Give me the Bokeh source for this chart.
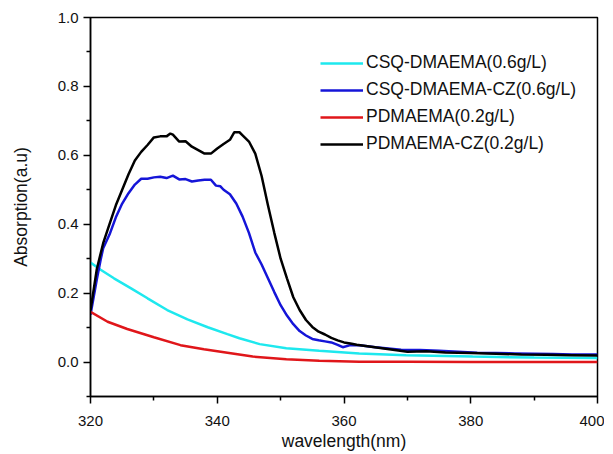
from bokeh.plotting import figure
from bokeh.models import FixedTicker, Legend, LegendItem, PrintfTickFormatter, Range1d
from bokeh.embed import file_html
from bokeh.resources import INLINE

# ---- data ----
cyan_x = [320, 321.6, 323.7, 326.4, 329, 332.1, 335.3, 338.5, 341.6, 343.5, 346.7, 350.9,
          356.1, 362.4, 369.8, 380.3, 390, 400]
cyan_y = [0.289, 0.268, 0.243, 0.214, 0.185, 0.151, 0.124, 0.101, 0.081, 0.069, 0.052, 0.040,
          0.033, 0.025, 0.020, 0.016, 0.013, 0.012]

blue_x = [320, 321, 321.6, 322, 323, 324, 325, 326, 327, 328, 329, 330, 331, 332, 333, 334, 335,
          336, 337, 338, 339, 339.8, 340.5, 341, 342, 343, 344, 345, 346, 347, 348, 349, 350,
          351, 352, 353, 354, 355, 356, 357, 358, 359, 359.8, 361, 362.4, 365, 369, 372, 375,
          378, 381, 384, 387, 390, 393, 396, 400]
blue_y = [0.137, 0.24, 0.297, 0.33, 0.37, 0.42, 0.46, 0.49, 0.515, 0.532, 0.532, 0.536, 0.538,
          0.534, 0.541, 0.53, 0.531, 0.524, 0.527, 0.529, 0.529, 0.512, 0.51, 0.50, 0.487, 0.46,
          0.422, 0.375, 0.318, 0.283, 0.243, 0.203, 0.165, 0.135, 0.11, 0.09, 0.077, 0.067,
          0.063, 0.06, 0.057, 0.05, 0.043, 0.049, 0.049, 0.043, 0.036, 0.035, 0.033, 0.030,
          0.027, 0.026, 0.025, 0.024, 0.023, 0.022, 0.022]

red_x = [320, 322.7, 325.8, 330, 334.2, 337.9, 341.6, 345.6, 350.9, 356.1, 362.4, 370, 380, 390, 400]
red_y = [0.146, 0.117, 0.096, 0.072, 0.049, 0.037, 0.027, 0.016, 0.008, 0.004, 0.001, 0.001,
         0.0, 0.0, 0.0]

black_x = [320, 321, 322, 323, 324, 325, 326, 327, 328, 329, 330, 331, 332, 332.6, 333, 334, 335,
           336, 337, 338, 339, 340, 341, 342, 342.7, 343.5, 344, 345, 346, 347, 348, 349, 350,
           351, 352, 353, 354, 355, 356, 357, 358, 359, 360, 361, 362, 364, 366, 368, 370, 373,
           376, 380, 384, 388, 392, 396, 400]
black_y = [0.15, 0.27, 0.345, 0.40, 0.455, 0.50, 0.545, 0.585, 0.61, 0.63, 0.652, 0.655, 0.655,
           0.663, 0.66, 0.64, 0.641, 0.625, 0.615, 0.605, 0.605, 0.62, 0.633, 0.645, 0.667,
           0.667, 0.658, 0.64, 0.605, 0.54, 0.455, 0.375, 0.30, 0.243, 0.188, 0.151, 0.122,
           0.102, 0.088, 0.08, 0.07, 0.063, 0.057, 0.054, 0.05, 0.045, 0.04, 0.035, 0.03,
           0.031, 0.028, 0.026, 0.024, 0.022, 0.021, 0.02, 0.019]

labels = ["CSQ-DMAEMA(0.6g/L)", "CSQ-DMAEMA-CZ(0.6g/L)", "PDMAEMA(0.2g/L)", "PDMAEMA-CZ(0.2g/L)"]
x_ticks = [320, 340, 360, 380, 400]
y_ticks = [0.0, 0.2, 0.4, 0.6, 0.8, 1.0]
y_minor = [-0.1, 0.1, 0.3, 0.5, 0.7, 0.9]
x_minor = [330, 350, 370, 390]

FONT = "Liberation Sans"

p = figure(width=604, height=453, output_backend="svg", toolbar_location=None,
           x_range=Range1d(320, 400), y_range=Range1d(-0.1, 1.0),
           min_border_left=90, min_border_top=17, min_border_right=7, min_border_bottom=56)
p.background_fill_color = "white"
p.border_fill_color = "white"
p.grid.visible = False
p.outline_line_color = "black"
p.outline_line_width = 1.5

r1 = p.line(cyan_x, cyan_y, line_color="#1ee8ee", line_width=2.5)
r2 = p.line(blue_x, blue_y, line_color="#1515d8", line_width=2.5)
r3 = p.line(red_x, red_y, line_color="#e0161a", line_width=2.5)
r4 = p.line(black_x, black_y, line_color="black", line_width=2.5)

for ax in (p.xaxis[0], p.yaxis[0]):
    ax.axis_line_width = 1.5
    ax.major_tick_line_width = 1.5
    ax.minor_tick_line_width = 1.5
    ax.major_tick_out = 7
    ax.major_tick_in = 0
    ax.minor_tick_out = 4
    ax.minor_tick_in = 0
    ax.major_label_text_font = FONT
    ax.major_label_text_font_size = "15px"
    ax.major_label_text_color = "#111111"
    ax.axis_label_text_font = FONT
    ax.axis_label_text_font_size = "17.5px"
    ax.axis_label_text_font_style = "normal"
    ax.axis_label_text_color = "#111111"

p.xaxis.ticker = FixedTicker(ticks=x_ticks, minor_ticks=x_minor)
p.yaxis.ticker = FixedTicker(ticks=y_ticks, minor_ticks=y_minor)
p.yaxis.formatter = PrintfTickFormatter(format="%.1f")
p.xaxis.axis_label = "wavelength(nm)"
p.yaxis.axis_label = "Absorption(a.u)"
p.xaxis.major_label_standoff = 12
p.xaxis.axis_label_standoff = 2
p.yaxis.major_label_standoff = 5
p.yaxis.axis_label_standoff = 24

legend = Legend(items=[LegendItem(label=labels[0], renderers=[r1]),
                       LegendItem(label=labels[1], renderers=[r2]),
                       LegendItem(label=labels[2], renderers=[r3]),
                       LegendItem(label=labels[3], renderers=[r4])],
                location=(230, 242))
legend.border_line_color = None
legend.background_fill_alpha = 0
legend.glyph_width = 43
legend.glyph_height = 20
legend.label_height = 20
legend.spacing = 6
legend.padding = 10
legend.label_standoff = 3
legend.label_text_font = FONT
legend.label_text_font_size = "17.5px"
legend.label_text_color = "#111111"
p.add_layout(legend)

open("out.html", "w").write(file_html(p, INLINE))
